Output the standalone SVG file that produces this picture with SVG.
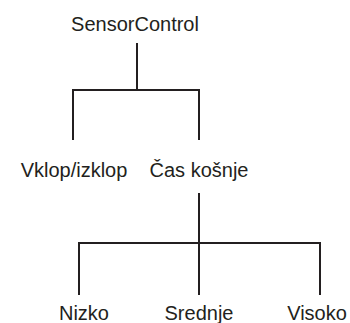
<svg xmlns="http://www.w3.org/2000/svg" width="350" height="323" viewBox="0 0 350 323">
<style>
text{font-family:"Liberation Sans",Arial,sans-serif;font-size:20px;fill:#231f20;text-anchor:middle}
.c path{fill:none;stroke:#231f20;stroke-width:2}
</style>
<rect width="350" height="323" fill="#fff"/>
<g class="c" id="connectors">
<path d="M137 43V90M73 140V90H199V140"/>
<path d="M199 193V243M79 295V243H320V295M199 243V295"/>
</g>
<g id="n-sensorcontrol"><text x="135" y="31">SensorControl</text></g>
<g id="n-vklop"><text x="74" y="177">Vklop/izklop</text></g>
<g id="n-cas"><text x="199" y="177">Čas košnje</text></g>
<g id="n-nizko"><text x="84" y="320">Nizko</text></g>
<g id="n-srednje"><text x="199" y="320">Srednje</text></g>
<g id="n-visoko"><text x="317" y="320">Visoko</text></g>
</svg>
